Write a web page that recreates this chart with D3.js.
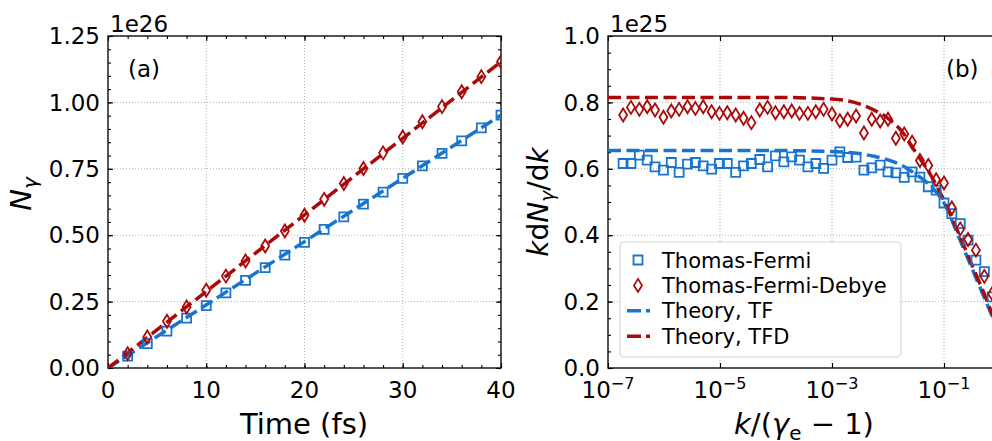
<!DOCTYPE html>
<html>
<head>
<meta charset="utf-8">
<script src="https://cdn.jsdelivr.net/npm/d3@7"></script>
<style>
body { margin: 0; background: #fff; }
text { font-family: "DejaVu Sans", sans-serif; fill: #000; }
</style>
</head>
<body>
<div id="chart"></div>
<script>
// panel (a): photon number vs time (units of 1e26)
var timeFs = [2, 4, 6, 8, 10, 12, 14, 16, 18, 20, 22, 24, 26, 28, 30, 32, 34, 36, 38, 40];
var nTF = [0.045, 0.092, 0.139, 0.188, 0.235, 0.283, 0.330, 0.378, 0.425, 0.473,
           0.522, 0.569, 0.617, 0.662, 0.714, 0.761, 0.808, 0.855, 0.904, 0.952];
var nTFD = [0.054, 0.117, 0.176, 0.230, 0.293, 0.346, 0.403, 0.459, 0.516, 0.575,
            0.635, 0.695, 0.751, 0.810, 0.870, 0.927, 0.984, 1.040, 1.097, 1.153];
var theoryTime = [0, 40];
var theoryNTF = [0, 0.952];
var theoryNTFD = [0, 1.153];
var xTicksA = [0, 10, 20, 30, 40];
var yTicksA = [0, 0.25, 0.5, 0.75, 1.0, 1.25];

// panel (b): spectrum k dN/dk (units of 1e25), x given as log10(k/(gamma_e-1))
var logK = [-6.73, -6.59, -6.44, -6.30, -6.16, -6.01, -5.87, -5.73, -5.58, -5.44,
            -5.30, -5.15, -5.01, -4.87, -4.72, -4.58, -4.44, -4.29, -4.15, -4.01,
            -3.86, -3.72, -3.58, -3.43, -3.29, -3.15, -3.00, -2.86, -2.72, -2.57,
            -2.43, -2.29, -2.14, -2.00, -1.86, -1.71, -1.57, -1.43, -1.28, -1.14,
            -1.00, -0.86, -0.71, -0.57, -0.43, -0.28, -0.14];
var specTF = [0.616, 0.616, 0.641, 0.626, 0.606, 0.596, 0.619, 0.589, 0.614, 0.619,
              0.609, 0.599, 0.616, 0.616, 0.589, 0.609, 0.616, 0.628, 0.606, 0.639,
              0.621, 0.636, 0.626, 0.606, 0.616, 0.601, 0.626, 0.651, 0.634, 0.635,
              0.596, 0.603, 0.611, 0.591, 0.588, 0.574, 0.591, 0.575, 0.546, 0.536,
              0.497, 0.465, 0.435, 0.385, 0.325, 0.290, 0.214];
var specTFD = [0.762, 0.785, 0.779, 0.787, 0.777, 0.755, 0.774, 0.779, 0.787, 0.782,
               0.787, 0.772, 0.767, 0.769, 0.762, 0.752, 0.739, 0.777, 0.785, 0.769,
               0.772, 0.774, 0.767, 0.767, 0.772, 0.779, 0.765, 0.745, 0.749, 0.759,
               0.708, 0.749, 0.744, 0.749, 0.692, 0.705, 0.680, 0.625, 0.610, 0.567,
               0.557, 0.482, 0.419, 0.387, 0.355, 0.276, 0.224];
var theoryLogK = [-7, -4, -3, -2.5, -2.25, -2, -1.75, -1.5, -1.25, -1, -0.75, -0.5, -0.25, 0];
var specTheoryTF = [0.655, 0.655, 0.652, 0.645, 0.638, 0.627, 0.610, 0.583, 0.550, 0.497, 0.400, 0.300, 0.200, 0.100];
var specTheoryTFD = [0.815, 0.815, 0.810, 0.795, 0.777, 0.752, 0.712, 0.648, 0.585, 0.505, 0.410, 0.310, 0.210, 0.100];
var xTicksB = [-7, -5, -3, -1];
var yTicksB = [0, 0.2, 0.4, 0.6, 0.8, 1.0];

var blue = "#1874cd";
var red = "#aa0a0a";
var tickFont = 23;

var svg = d3.select("#chart").append("svg")
  .attr("width", 992)
  .attr("height", 441);

var squarePath = "M-4.5,-4.5h9v9h-9z";
var diamondPath = "M0,-6.5L4,0L0,6.5L-4,0Z";

// draws the frame, grid and inward ticks of one panel
function drawFrame(g, x, y, xMajor, yMajor, xMinor, yMinor, left, right, top, bottom) {
  // grid
  g.append("g").selectAll("line.gx").data(xMajor).enter().append("line")
    .attr("x1", d => x(d)).attr("x2", d => x(d))
    .attr("y1", top).attr("y2", bottom)
    .attr("stroke", "#b0b0b0").attr("stroke-width", 1).attr("stroke-dasharray", "1,2");
  g.append("g").selectAll("line.gy").data(yMajor).enter().append("line")
    .attr("x1", left).attr("x2", right)
    .attr("y1", d => y(d)).attr("y2", d => y(d))
    .attr("stroke", "#b0b0b0").attr("stroke-width", 1).attr("stroke-dasharray", "1,2");

  var axes = [
    [d3.axisBottom(x), "translate(0," + bottom + ")", xMajor, xMinor],
    [d3.axisTop(x), "translate(0," + top + ")", xMajor, xMinor],
    [d3.axisLeft(y), "translate(" + left + ",0)", yMajor, yMinor],
    [d3.axisRight(y), "translate(" + right + ",0)", yMajor, yMinor]
  ];
  axes.forEach(function(a) {
    if (a[3].length) {
      var m = g.append("g").attr("transform", a[1])
        .call(a[0].tickValues(a[3]).tickSize(-3).tickSizeOuter(0).tickFormat(""));
      m.select(".domain").remove();
      m.selectAll("line").attr("stroke-width", 1.1);
    }
    var M = g.append("g").attr("transform", a[1])
      .call(a[0].tickValues(a[2]).tickSize(-5).tickSizeOuter(0).tickFormat(""));
    M.select(".domain").remove();
    M.selectAll("line").attr("stroke-width", 1.1);
  });

  g.append("rect")
    .attr("x", left).attr("y", top)
    .attr("width", right - left).attr("height", bottom - top)
    .attr("fill", "none").attr("stroke", "#000").attr("stroke-width", 1.3);
}

// ---------------- panel (a) ----------------
var xA = d3.scaleLinear().domain([0, 40]).range([108, 501]);
var yA = d3.scaleLinear().domain([0, 1.25]).range([368, 36]);
var gA = svg.append("g");

drawFrame(gA, xA, yA, xTicksA, yTicksA,
  d3.range(0, 40.1, 2), d3.range(0, 1.26, 0.05), 108, 501, 36, 368);

svg.append("clipPath").attr("id", "clipA").append("rect")
  .attr("x", 108).attr("y", 36).attr("width", 393).attr("height", 332);
var plotA = gA.append("g").attr("clip-path", "url(#clipA)");

var lineA = d3.line().x(d => xA(d[0])).y(d => yA(d[1]));
plotA.append("path")
  .datum(d3.zip(theoryTime, theoryNTF))
  .attr("d", lineA).attr("fill", "none").attr("stroke", blue)
  .attr("stroke-width", 3.5).attr("stroke-dasharray", "13,5.5");
plotA.append("path")
  .datum(d3.zip(theoryTime, theoryNTFD))
  .attr("d", lineA).attr("fill", "none").attr("stroke", red)
  .attr("stroke-width", 3.5).attr("stroke-dasharray", "13,5.5");

plotA.selectAll("path.sqA").data(d3.zip(timeFs, nTF)).enter().append("path")
  .attr("d", squarePath)
  .attr("transform", d => "translate(" + xA(d[0]) + "," + yA(d[1]) + ")")
  .attr("fill", "none").attr("stroke", blue).attr("stroke-width", 1.8);
plotA.selectAll("path.dmA").data(d3.zip(timeFs, nTFD)).enter().append("path")
  .attr("d", diamondPath)
  .attr("transform", d => "translate(" + xA(d[0]) + "," + yA(d[1]) + ")")
  .attr("fill", "none").attr("stroke", red).attr("stroke-width", 1.8);

// tick labels (a)
gA.selectAll("text.xt").data(xTicksA).enter().append("text")
  .attr("x", d => xA(d)).attr("y", 398)
  .attr("text-anchor", "middle").attr("font-size", tickFont)
  .text(d => d);
gA.selectAll("text.yt").data(yTicksA).enter().append("text")
  .attr("x", 100).attr("y", d => yA(d)).attr("dy", "0.36em")
  .attr("text-anchor", "end").attr("font-size", tickFont)
  .text(d => d3.format(".2f")(d));
gA.append("text").attr("x", 110).attr("y", 32).attr("font-size", tickFont).text("1e26");
gA.append("text").attr("x", 128).attr("y", 77).attr("font-size", tickFont).text("(a)");
gA.append("text").attr("x", 304).attr("y", 434).attr("text-anchor", "middle")
  .attr("font-size", 29).text("Time (fs)");
var ylabA = gA.append("text")
  .attr("transform", "translate(31,194) rotate(-90)")
  .attr("text-anchor", "middle").attr("font-size", 29);
ylabA.append("tspan").attr("font-style", "italic").text("N");
ylabA.append("tspan").attr("font-style", "italic").attr("font-size", 20).attr("dy", 6).text("γ");

// ---------------- panel (b) ----------------
var xB = d3.scaleLog().domain([1e-7, 1]).range([608, 1000]);
var yB = d3.scaleLinear().domain([0, 1.0]).range([368, 36]);
var gB = svg.append("g");
var xTickValsB = xTicksB.map(e => Math.pow(10, e));

drawFrame(gB, xB, yB, xTickValsB, yTicksB,
  [], d3.range(0, 1.01, 0.05), 608, 1000, 36, 368);

svg.append("clipPath").attr("id", "clipB").append("rect")
  .attr("x", 608).attr("y", 36).attr("width", 392).attr("height", 332);
var plotB = gB.append("g").attr("clip-path", "url(#clipB)");

var lineB = d3.line().x(d => xB(Math.pow(10, d[0]))).y(d => yB(d[1])).curve(d3.curveMonotoneX);
plotB.append("path")
  .datum(d3.zip(theoryLogK, specTheoryTF))
  .attr("d", lineB).attr("fill", "none").attr("stroke", blue)
  .attr("stroke-width", 3.5).attr("stroke-dasharray", "13,5.5");
plotB.append("path")
  .datum(d3.zip(theoryLogK, specTheoryTFD))
  .attr("d", lineB).attr("fill", "none").attr("stroke", red)
  .attr("stroke-width", 3.5).attr("stroke-dasharray", "13,5.5");

plotB.selectAll("path.sqB").data(d3.zip(logK, specTF)).enter().append("path")
  .attr("d", squarePath)
  .attr("transform", d => "translate(" + xB(Math.pow(10, d[0])) + "," + yB(d[1]) + ")")
  .attr("fill", "none").attr("stroke", blue).attr("stroke-width", 1.8);
plotB.selectAll("path.dmB").data(d3.zip(logK, specTFD)).enter().append("path")
  .attr("d", diamondPath)
  .attr("transform", d => "translate(" + xB(Math.pow(10, d[0])) + "," + yB(d[1]) + ")")
  .attr("fill", "none").attr("stroke", red).attr("stroke-width", 1.8);

// tick labels (b)
gB.selectAll("text.xt").data(xTicksB).enter().append("text")
  .attr("x", d => xB(Math.pow(10, d))).attr("y", 398)
  .attr("text-anchor", "middle").attr("font-size", tickFont)
  .each(function(d) {
    var t = d3.select(this);
    t.append("tspan").text("10");
    t.append("tspan").attr("font-size", 16).attr("dy", -9).text("\u2212" + Math.abs(d));
  });
gB.selectAll("text.yt").data(yTicksB).enter().append("text")
  .attr("x", 600).attr("y", d => yB(d)).attr("dy", "0.36em")
  .attr("text-anchor", "end").attr("font-size", tickFont)
  .text(d => d3.format(".1f")(d));
gB.append("text").attr("x", 610).attr("y", 32).attr("font-size", tickFont).text("1e25");
gB.append("text").attr("x", 946).attr("y", 77).attr("font-size", tickFont).text("(b)");

var xlabB = gB.append("text").attr("x", 804).attr("y", 434)
  .attr("text-anchor", "middle").attr("font-size", 29);
xlabB.append("tspan").attr("font-style", "italic").text("k");
xlabB.append("tspan").text("/(");
xlabB.append("tspan").attr("font-style", "italic").text("γ");
xlabB.append("tspan").attr("font-size", 20).attr("dy", 6).text("e");
xlabB.append("tspan").attr("dy", -6).text(" \u2212 1)");

var ylabB = gB.append("text")
  .attr("transform", "translate(548,202) rotate(-90)")
  .attr("text-anchor", "middle").attr("font-size", 28);
ylabB.append("tspan").attr("font-style", "italic").text("k");
ylabB.append("tspan").text("d");
ylabB.append("tspan").attr("font-style", "italic").text("N");
ylabB.append("tspan").attr("font-style", "italic").attr("font-size", 19).attr("dy", 6).text("γ");
ylabB.append("tspan").attr("dy", -6).text("/d");
ylabB.append("tspan").attr("font-style", "italic").text("k");

// legend
var legendItems = [
  { label: "Thomas-Fermi", color: blue, kind: "square" },
  { label: "Thomas-Fermi-Debye", color: red, kind: "diamond" },
  { label: "Theory, TF", color: blue, kind: "line" },
  { label: "Theory, TFD", color: red, kind: "line" }
];
var legend = gB.append("g");
legend.append("rect")
  .attr("x", 620).attr("y", 242).attr("width", 281).attr("height", 115)
  .attr("rx", 4).attr("fill", "#fff").attr("fill-opacity", 0.8)
  .attr("stroke", "#d5d5d5").attr("stroke-width", 1.2);
legendItems.forEach(function(it, i) {
  var cy = 260 + i * 25.4;
  if (it.kind === "line") {
    legend.append("line").attr("x1", 627).attr("x2", 650).attr("y1", cy).attr("y2", cy)
      .attr("stroke", it.color).attr("stroke-width", 3.5).attr("stroke-dasharray", "14,5");
  } else {
    legend.append("path").attr("d", it.kind === "square" ? squarePath : diamondPath)
      .attr("transform", "translate(638," + cy + ")")
      .attr("fill", "none").attr("stroke", it.color).attr("stroke-width", 1.8);
  }
  legend.append("text").attr("x", 662).attr("y", cy).attr("dy", "0.36em")
    .attr("font-size", 21).text(it.label);
});
</script>
</body>
</html>
